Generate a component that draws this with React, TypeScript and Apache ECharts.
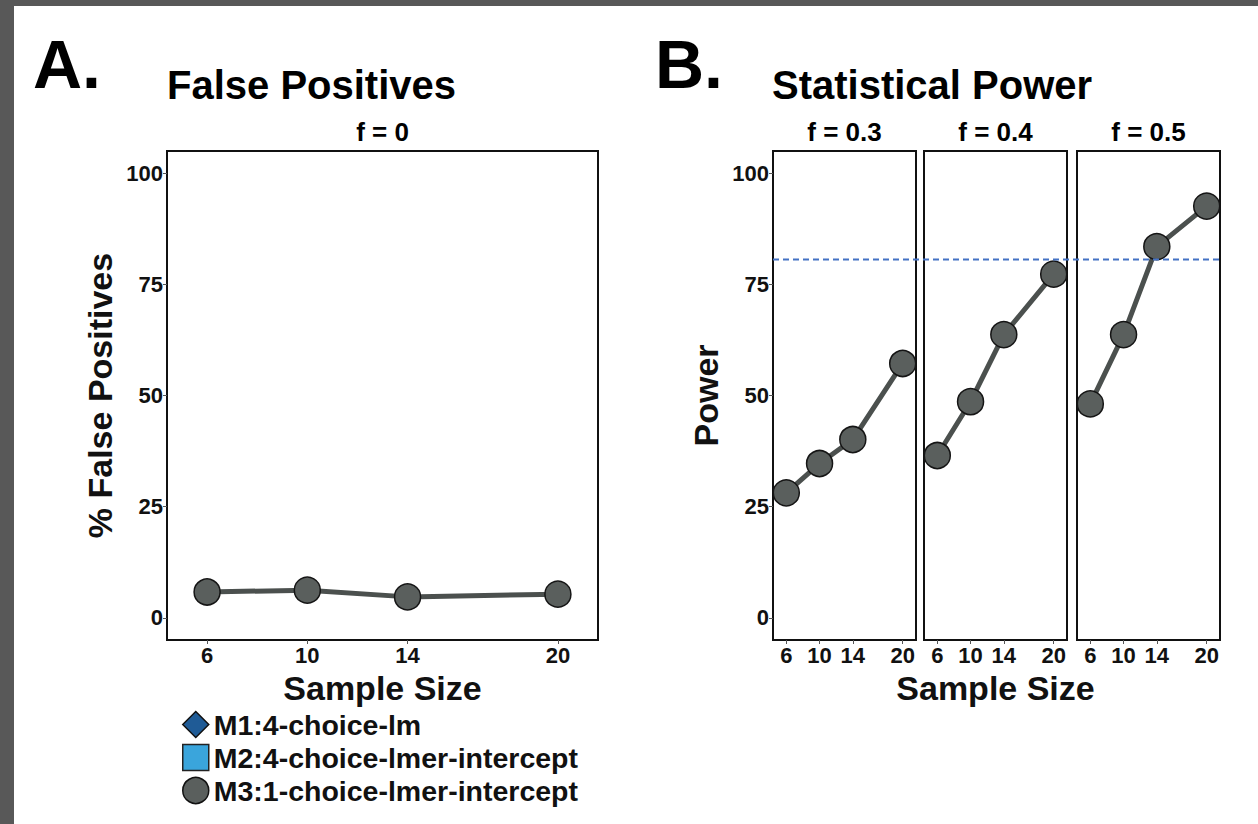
import React, { useEffect, useRef } from "react";
import * as echarts from "echarts";

const sampleSizes = [6, 10, 14, 20];
const falsePositives = [5.8, 6.2, 4.7, 5.3];
const powerF03 = [28.1, 34.7, 40.1, 57.2];
const powerF04 = [36.5, 48.6, 63.7, 77.3];
const powerF05 = [48.1, 63.7, 83.5, 92.6];
const yTicks = [0, 25, 50, 75, 100];
const facetLabels = ["f = 0", "f = 0.3", "f = 0.4", "f = 0.5"];
const legendNames = ["M1:4-choice-lm", "M2:4-choice-lmer-intercept", "M3:1-choice-lmer-intercept"];
const powerThreshold = 80.6;

const FONT = "Liberation Sans, Arial, Helvetica, sans-serif";

export default function App() {
  const ref = useRef<HTMLDivElement>(null);
  useEffect(() => {
    if (!ref.current) return;
    const chart = echarts.init(ref.current, undefined, { renderer: "svg" });

    const grids = [
      { left: 167, top: 151, width: 431, height: 489 },
      { left: 773, top: 151, width: 143, height: 489 },
      { left: 924, top: 151, width: 143, height: 489 },
      { left: 1077, top: 151, width: 143, height: 489 },
    ].map((g) => ({ ...g, show: true, borderColor: "#111", borderWidth: 2, backgroundColor: "#fff", containLabel: false }));

    const tickLabel = { fontFamily: FONT, fontWeight: "bold" as const, fontSize: 22, color: "#111" };
    const nameStyle = { fontFamily: FONT, fontWeight: "bold" as const, fontSize: 34, color: "#111" };

    const xAxes = grids.map((_, i) => ({
      type: "value" as const,
      gridIndex: i,
      min: 4.4,
      max: 21.6,
      position: "bottom" as const,
      axisLine: { show: false, onZero: false },
      splitLine: { show: false },
      axisTick: { show: true, length: 4, lineStyle: { color: "#555", width: 1 }, customValues: sampleSizes },
      axisLabel: { ...tickLabel, margin: 4, customValues: sampleSizes },
      name: i === 0 || i === 2 ? "Sample Size" : "",
      nameLocation: "middle" as const,
      nameGap: 21,
      nameTextStyle: nameStyle,
    }));

    const yAxes = grids.map((_, i) => ({
      type: "value" as const,
      gridIndex: i,
      min: -5,
      max: 105,
      position: "left" as const,
      axisLine: { show: false, onZero: false },
      splitLine: { show: false },
      axisTick: { show: i <= 1, length: 4, lineStyle: { color: "#555", width: 1 }, customValues: yTicks },
      axisLabel: { ...tickLabel, show: i <= 1, margin: 4, customValues: yTicks },
      name: i === 0 ? "% False Positives" : i === 1 ? "Power" : "",
      nameLocation: "middle" as const,
      nameGap: 50,
      nameTextStyle: nameStyle,
    }));

    const seriesValues = [falsePositives, powerF03, powerF04, powerF05];
    const m3 = seriesValues.map((vals, i) => ({
      type: "line" as const,
      name: legendNames[2],
      xAxisIndex: i,
      yAxisIndex: i,
      data: sampleSizes.map((x, k) => [x, vals[k]]),
      symbol: "circle",
      symbolSize: 26,
      itemStyle: { color: "#5a5f5d", borderColor: "#151515", borderWidth: 1.5 },
      lineStyle: { color: "#4b504e", width: 5 },
      z: 3,
    }));

    const emptySeries = [
      { type: "line" as const, name: legendNames[0], data: [], symbol: "diamond", itemStyle: { color: "#1f5b96" } },
      { type: "line" as const, name: legendNames[1], data: [], symbol: "rect", itemStyle: { color: "#3aa5dc" } },
    ];

    const option: any = {
      animation: false,
      backgroundColor: "#fff",
      textStyle: { fontFamily: FONT },
      grid: grids,
      xAxis: xAxes,
      yAxis: yAxes,
      legend: {
        orient: "vertical",
        left: 177,
        top: 705,
        itemWidth: 26,
        itemHeight: 26,
        itemGap: 4,
        selectedMode: false,
        textStyle: { fontFamily: FONT, fontWeight: "bold", fontSize: 28.5, color: "#111" },
        data: [
          { name: legendNames[0], icon: "diamond", itemStyle: { color: "#1f5b96", borderColor: "#111", borderWidth: 1.5 } },
          { name: legendNames[1], icon: "rect", itemStyle: { color: "#3aa5dc", borderColor: "#222", borderWidth: 1.5 } },
          { name: legendNames[2], icon: "circle", itemStyle: { color: "#5a5f5d", borderColor: "#111", borderWidth: 1.5 } },
        ],
      },
      series: [...emptySeries, ...m3],
    };
    chart.setOption(option);

    const yLine = chart.convertToPixel({ yAxisIndex: 1 }, powerThreshold) as number;
    const xStart = chart.convertToPixel({ xAxisIndex: 1 }, 4.4) as number;
    const xEnd = chart.convertToPixel({ xAxisIndex: 3 }, 21.6) as number;
    const stripCenters = [0, 1, 2, 3].map((i) => {
      const a = chart.convertToPixel({ xAxisIndex: i }, 4.4) as number;
      const b = chart.convertToPixel({ xAxisIndex: i }, 21.6) as number;
      return (a + b) / 2;
    });

    const textEl = (text: string, x: number, y: number, size: number, align = "left") => ({
      type: "text",
      x,
      y,
      style: { text, fontFamily: FONT, fontWeight: "bold", fontSize: size, fill: "#000", textAlign: align, textVerticalAlign: "middle" },
    });

    chart.setOption({
      graphic: [
        { type: "rect", shape: { x: 0, y: 0, width: 1258, height: 6 }, style: { fill: "#585858" } },
        { type: "rect", shape: { x: 0, y: 0, width: 14, height: 824 }, style: { fill: "#585858" } },
        textEl("A.", 33, 64, 68),
        textEl("False Positives", 167, 85, 40),
        textEl("B.", 655, 64, 68),
        textEl("Statistical Power", 772, 85, 40),
        ...facetLabels.map((t, i) => textEl(t, stripCenters[i], 132, 26, "center")),
        {
          type: "line",
          z: 10,
          shape: { x1: xStart, y1: yLine, x2: xEnd, y2: yLine },
          style: { stroke: "#4472c4", lineWidth: 2, lineDash: [6, 4] },
        },
      ],
    });

    return () => chart.dispose();
  }, []);
  return <div ref={ref} style={{ position: "absolute", left: 0, top: 0, width: 1258, height: 824 }} />;
}
